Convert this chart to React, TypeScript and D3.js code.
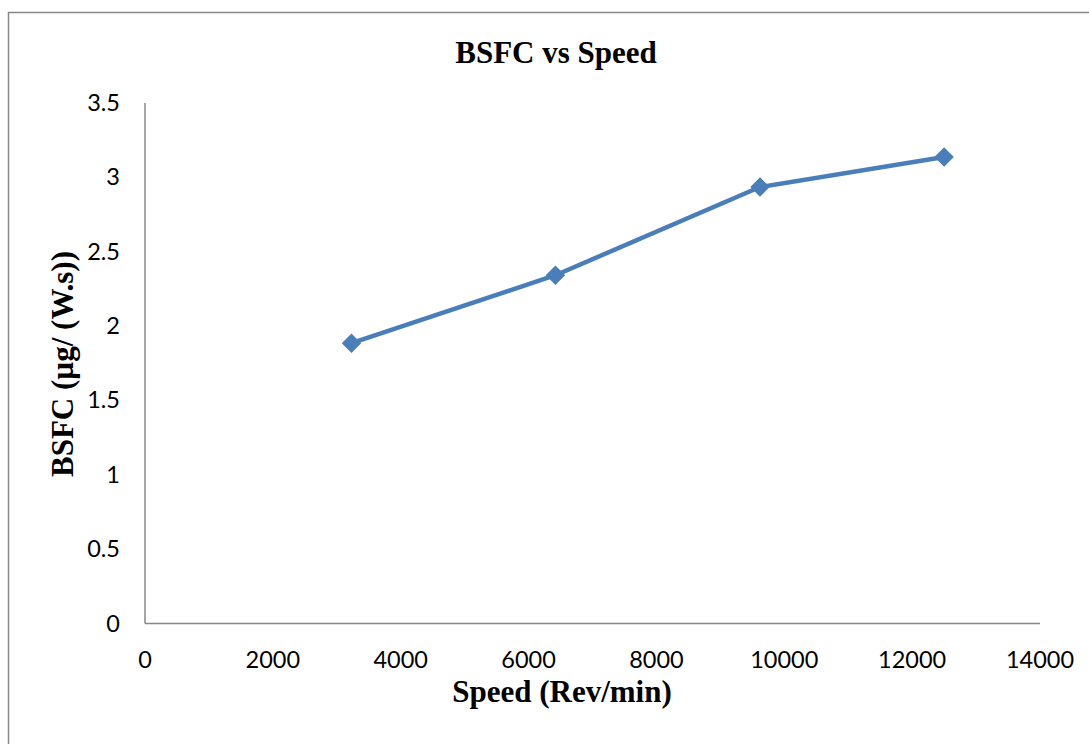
import React, { useEffect, useRef } from "react";
import * as d3 from "d3";

const speeds = [3230, 6420, 9620, 12500];
const bsfc = [1.885, 2.342, 2.935, 3.137];
const xTicks = [0, 2000, 4000, 6000, 8000, 10000, 12000, 14000];
const yTicks = [0, 0.5, 1, 1.5, 2, 2.5, 3, 3.5];

const App = () => {
  const svgRef = useRef<SVGSVGElement>(null);

  useEffect(() => {
    const width = 1089, height = 744;
    const svg = d3.select(svgRef.current)
      .attr("width", width)
      .attr("height", height)
      .style("position", "absolute")
      .style("left", 0)
      .style("top", 0)
      .style("background", "#fff");
    svg.selectAll("*").remove();

    // outer frame
    svg.append("rect")
      .attr("x", 8.5).attr("y", 12.5)
      .attr("width", 1200).attr("height", 800)
      .attr("fill", "none")
      .attr("stroke", "#888").attr("stroke-width", 1.5);

    const x = d3.scaleLinear().domain([0, 14000]).range([145, 1040]);
    const y = d3.scaleLinear().domain([0, 3.5]).range([623.5, 103]);

    const axisColor = "#888";
    svg.append("line")
      .attr("x1", x(0)).attr("x2", x(14000))
      .attr("y1", y(0)).attr("y2", y(0))
      .attr("stroke", axisColor).attr("stroke-width", 1.5);
    svg.append("line")
      .attr("x1", x(0)).attr("x2", x(0))
      .attr("y1", y(0)).attr("y2", y(3.5))
      .attr("stroke", axisColor).attr("stroke-width", 1.5);

    const tickFont = "Lato, 'Open Sans', sans-serif";
    svg.selectAll(".xt").data(xTicks).enter().append("text")
      .attr("x", d => x(d)).attr("y", 668)
      .attr("text-anchor", "middle")
      .attr("font-family", tickFont).attr("font-size", 23.5)
      .attr("fill", "#000")
      .text(d => d);

    svg.selectAll(".yt").data(yTicks).enter().append("text")
      .attr("x", 120).attr("y", d => y(d) + 8)
      .attr("text-anchor", "end")
      .attr("font-family", tickFont).attr("font-size", 23.5)
      .attr("fill", "#000")
      .text(d => d);

    const pts = speeds.map((s, i) => [s, bsfc[i]] as [number, number]);
    const color = "#4a7ebb";
    svg.append("path")
      .datum(pts)
      .attr("d", d3.line<[number, number]>().x(d => x(d[0])).y(d => y(d[1])))
      .attr("fill", "none")
      .attr("stroke", color)
      .attr("stroke-width", 4.5)
      .attr("stroke-linejoin", "round");

    svg.selectAll(".pt").data(pts).enter().append("path")
      .attr("d", d3.symbol().type(d3.symbolDiamond2).size(240)())
      .attr("transform", d => `translate(${x(d[0])},${y(d[1])})`)
      .attr("fill", color);

    const serif = "'Liberation Serif', 'Times New Roman', serif";
    svg.append("text")
      .attr("x", 556).attr("y", 63)
      .attr("text-anchor", "middle")
      .attr("font-family", serif).attr("font-weight", "bold").attr("font-size", 31)
      .text("BSFC vs Speed");

    svg.append("text")
      .attr("x", 562).attr("y", 702)
      .attr("text-anchor", "middle")
      .attr("font-family", serif).attr("font-weight", "bold").attr("font-size", 31)
      .text("Speed (Rev/min)");

    svg.append("text")
      .attr("transform", "translate(73,364) rotate(-90)")
      .attr("text-anchor", "middle")
      .attr("font-family", serif).attr("font-weight", "bold").attr("font-size", 31)
      .text("BSFC (µg/ (W.s))");
  }, []);

  return <svg ref={svgRef}></svg>;
};

export default App;
